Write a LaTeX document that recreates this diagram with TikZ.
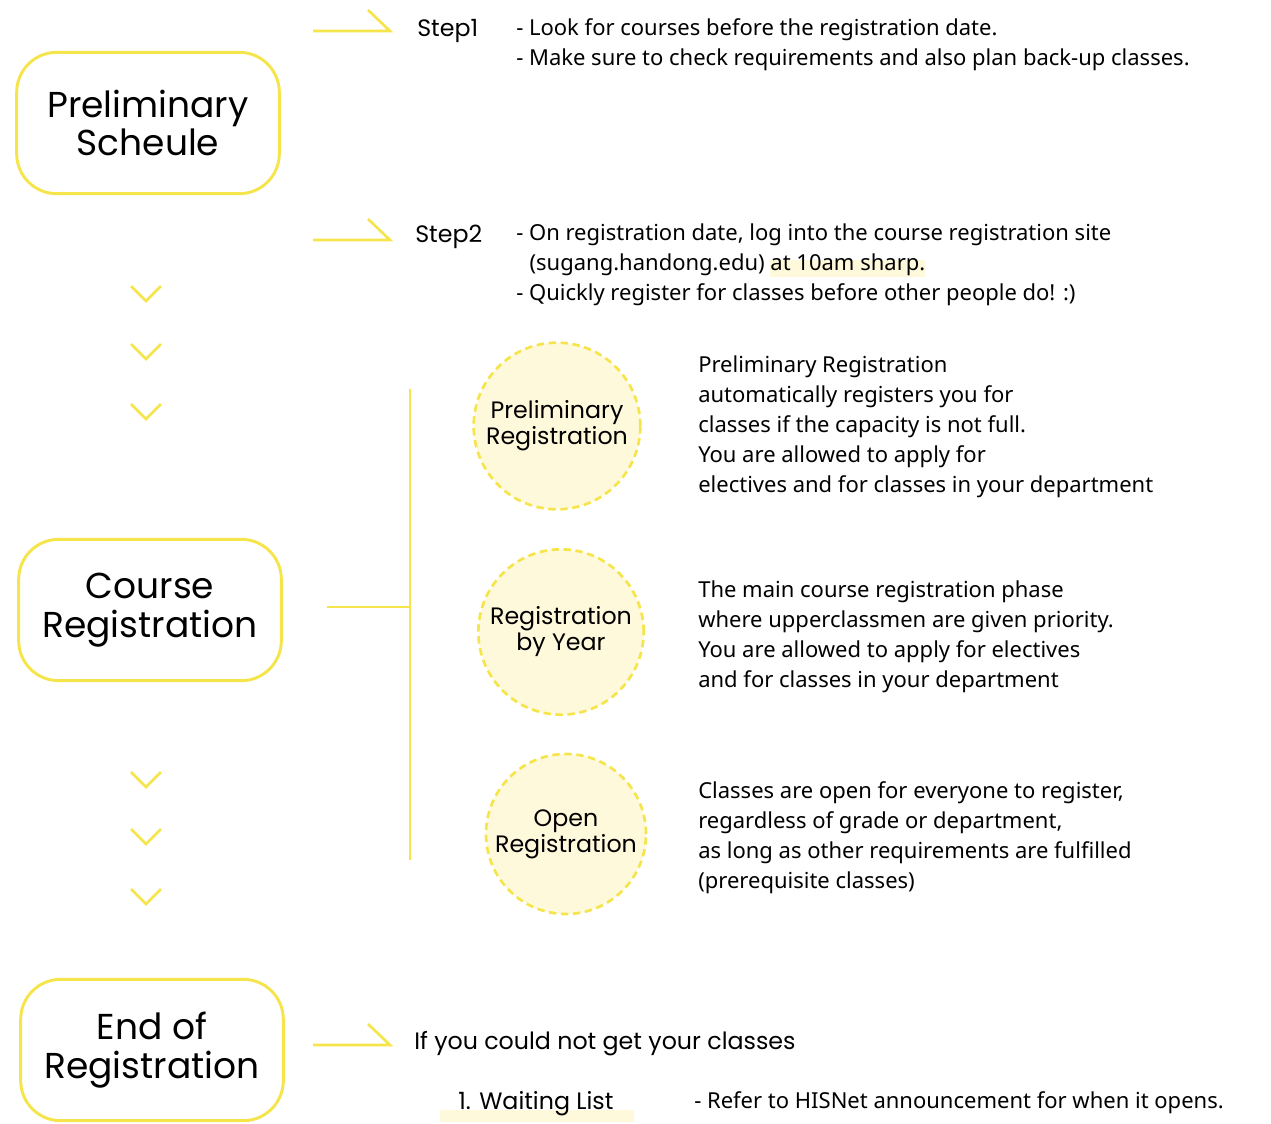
\documentclass[tikz,border=0pt]{standalone}
\usepackage{fontspec}
\setmainfont{Noto Sans}
\newfontfamily\roundfont{Poppins}
\usepackage{tikz}

\definecolor{hdyellow}{HTML}{F5E44A}
\definecolor{hdpale}{HTML}{FFF9DC}

\newcommand\stagefont{\roundfont\fontsize{27}{29}\selectfont}
\newcommand\phasefont{\roundfont\fontsize{17.8}{19.5}\selectfont}
\newcommand\notefont{\fontsize{16.5}{22.5}\selectfont}
\newlength\marklen
\newcommand\marktext[1]{\settowidth\marklen{#1}\rlap{\color{hdpale}\rule[-0.55ex]{\marklen}{1.45ex}}#1}

\begin{document}
\begin{tikzpicture}[x=0.75pt,y=-0.75pt,
  stage/.style={draw=hdyellow,line width=2.2pt,rounded corners=30pt,minimum width=197pt,minimum height=106pt,align=center,font=\stagefont},
  phase/.style={circle,draw=hdyellow,fill=hdpale,dash pattern=on 5.5pt off 3.5pt,line width=2pt,minimum size=125pt,inner sep=0pt,align=center,font=\phasefont},
  desc/.style={anchor=north west,inner sep=0pt,align=left,font=\notefont},
  hook/.style={draw=hdyellow,line width=2pt},
  chevron/.style={draw=hdyellow,line width=2pt}]
  \useasboundingbox (0,0) rectangle (1271,1124);

  \node[stage] (sched) at (148,123) {Preliminary\\Scheule};
  \node[stage] (course) at (150,610) {Course\\Registration};
  \node[stage] (endreg) at (152,1050) {End of\\Registration};

  \coordinate (h1) at (313,31);
  \coordinate (h2) at (313,240);
  \coordinate (h3) at (313,1045);
  \foreach \h in {h1,h2,h3}
    \draw[hook] (\h) -- ++(77,0) -- ++(-22,-21);

  \node[font=\phasefont,anchor=west,inner sep=0pt] (step1) at (417,31) {Step1};
  \node[desc] (note1) at (516,18) {- Look for courses before the registration date.\\
    - Make sure to check requirements and also plan back-up classes.};
  \node[font=\phasefont,anchor=west,inner sep=0pt] (step2) at (415,237) {Step2};
  \node[desc] (note2) at (516,224) {- On registration date, log into the course registration site\\
    \hspace*{10pt}(sugang.handong.edu) \marktext{at 10am sharp.}\\
    - Quickly register for classes before other people do! :)};

  \foreach \y in {293,351,411,779,836,896}
    \draw[chevron] (131,\y-7) -- (146,\y+8) -- (161,\y-7);

  \coordinate (brtop) at (410,389);
  \coordinate (brbot) at (410,860);
  \coordinate (brmid) at (410,607);
  \coordinate (brin) at (327,607);
  \draw[hook] (brtop) -- (brbot);
  \draw[hook] (brin) -- (brmid);

  \node[phase] (prereg) at (557,426) {Preliminary\\Registration};
  \node[phase,minimum size=124pt] (yearreg) at (561,632) {Registration\\by Year};
  \node[phase,minimum size=120pt] (openreg) at (566,834) {Open\\Registration};

  \node[desc] (prenote) at (698,356) {Preliminary Registration\\
    automatically registers you for\\
    classes if the capacity is not full.\\
    You are allowed to apply for\\
    electives and for classes in your department};
  \node[desc] (yearnote) at (698,581) {The main course registration phase\\
    where upperclassmen are given priority.\\
    You are allowed to apply for electives\\
    and for classes in your department};
  \node[desc] (opennote) at (698,781) {Classes are open for everyone to register,\\
    regardless of grade or department,\\
    as long as other requirements are fulfilled\\
    (prerequisite classes)};

  \node[font=\phasefont,anchor=west,inner sep=0pt] (ifnot) at (414,1044) {If you could not get your classes};
  \fill[hdpale] (440,1110) rectangle (634,1122);
  \node[font=\phasefont,anchor=west,inner sep=0pt] (wait) at (458,1104) {1. Waiting List};
  \node[desc] (waitnote) at (694,1091) {- Refer to HISNet announcement for when it opens.};
\end{tikzpicture}
\end{document}
